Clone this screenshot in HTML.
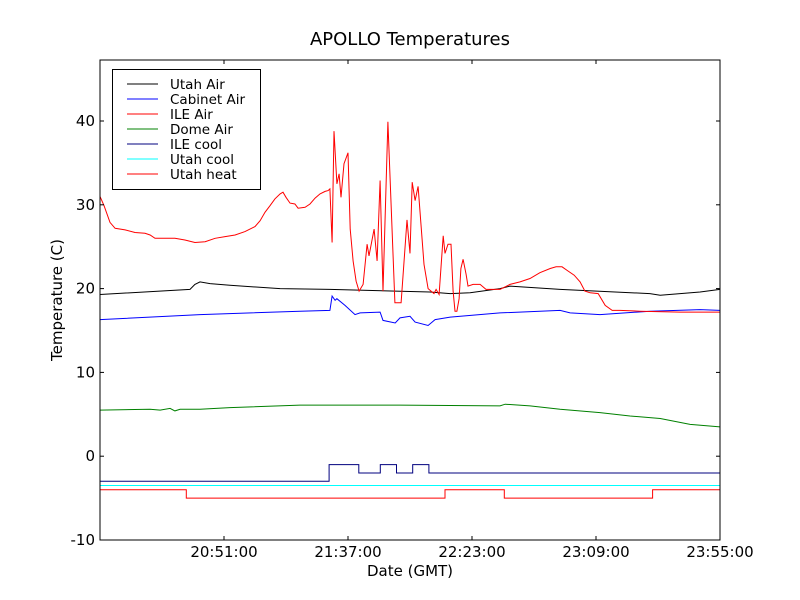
<!DOCTYPE html>
<html><head><meta charset="utf-8"><style>
body{margin:0;background:#fff;}
svg{display:block;font-family:"DejaVu Sans","Liberation Sans",sans-serif;}
</style></head><body>
<svg id="chart" width="800" height="600">
<rect width="800" height="600" fill="#fff"/>
<text x="410" y="45" font-size="18" text-anchor="middle">APOLLO Temperatures</text>
<g id="series"></g>
<rect x="100" y="60" width="620" height="480" fill="none" stroke="#000" stroke-width="1"/>
<g id="axes"></g>
<text x="410" y="576" font-size="15" text-anchor="middle">Date (GMT)</text>
<text transform="translate(62,300) rotate(-90)" font-size="15" text-anchor="middle">Temperature (C)</text>
<g>
<rect x="112.5" y="69.5" width="148" height="120" fill="#fff" stroke="#000"/>
<g id="legend"></g>
</g>
</svg>
<script>
// time in minutes after 20:05:00
const xTickLabels=["20:51:00","21:37:00","22:23:00","23:09:00","23:55:00"];
const xTickMinutes=[46,92,138,184,230];
const yTicks=[-10,0,10,20,30,40];
const utahAirT=[0,33.4,35.2,37.1,40.8,48.2,66.8,85.3,122.4,129.9,137.3,148.4,152.1,170.7,204,207.8,222.6,230];
const utahAirV=[19.3,19.9,20.5,20.8,20.6,20.4,20.0,19.9,19.6,19.4,19.5,20.0,20.3,19.9,19.4,19.2,19.6,19.9];
const cabinetT=[0,37.1,74.2,85.3,86.1,87.2,87.9,90.9,94.6,96.5,103.9,105.0,109.5,111.3,115.0,116.9,121.7,124.3,129.9,148.4,170.7,174.4,185.5,204.1,222.6,230];
const cabinetV=[16.3,16.9,17.3,17.4,19.1,18.6,18.8,18.0,16.9,17.1,17.2,16.2,15.9,16.5,16.7,16.0,15.6,16.3,16.6,17.1,17.4,17.1,16.9,17.3,17.5,17.4];
const ileAirT=[0,1.5,3.7,5.6,9.3,13.0,16.7,18.6,20.4,24.1,27.8,31.5,35.2,39.0,42.7,46.4,50.1,53.8,57.5,59.4,61.2,63.1,64.9,66.8,67.9,69.0,70.5,72.3,73.5,76.1,77.9,79.8,81.6,83.5,84.6,85.3,86.1,86.8,87.9,88.7,89.4,90.5,92.0,92.8,93.9,95.0,96.1,97.6,99.1,99.8,101.7,102.8,103.9,105.0,106.8,109.4,111.7,113.9,115.0,115.8,116.9,118.0,120.2,121.7,123.9,124.7,125.8,127.3,128.0,129.1,130.2,131.0,131.7,132.4,133.2,133.9,134.7,135.8,136.5,138.4,141.0,143.2,148.4,152.1,155.8,159.5,163.2,167.0,169.2,171.4,173.6,175.9,178.1,179.9,181.8,184.8,187.4,190.0,192.9,200.3,215.2,230];
const ileAirV=[31.0,29.9,27.9,27.2,27.0,26.7,26.6,26.4,26.0,26.0,26.0,25.8,25.5,25.6,26.0,26.2,26.4,26.8,27.4,28.1,29.1,29.9,30.7,31.3,31.5,30.9,30.2,30.1,29.6,29.7,30.1,30.8,31.3,31.6,31.7,31.9,25.5,38.8,32.5,33.7,30.9,34.9,36.2,27.1,23.3,20.9,19.7,20.5,25.3,23.9,27.1,23.3,32.9,19.7,39.9,18.3,18.3,28.2,24.2,32.7,30.5,32.2,22.9,20.0,19.4,19.9,19.3,26.3,24.2,25.3,25.3,19.7,17.3,17.3,18.8,22.4,23.5,21.7,20.3,20.5,20.5,19.9,19.9,20.5,20.8,21.2,21.9,22.4,22.6,22.6,22.1,21.6,20.8,19.7,19.5,19.4,18.0,17.4,17.4,17.3,17.2,17.2];
const domeT=[0,18.6,22.3,26.0,27.8,29.7,37.1,48.2,74.2,111.3,148.4,150.3,159.5,170.7,185.5,196.6,207.8,218.9,230];
const domeV=[5.5,5.6,5.5,5.7,5.4,5.6,5.6,5.8,6.1,6.1,6.0,6.2,6.0,5.6,5.2,4.8,4.5,3.8,3.5];
const ileCoolT=[0,85,96,104,110,116,122,230];
const ileCoolV=[-3,-1,-2,-1,-2,-1,-2,-2];
const utahCoolT=[0,230];
const utahCoolV=[-3.5,-3.5];
const utahHeatT=[0,32,128,150,205,230];
const utahHeatV=[-4,-5,-4,-5,-4,-4];

const X0=100,X1=720,Y0=540,Y1=60,TMAX=230,VMIN=-10,VMAX=47.28;
const sx=t=>X0+(t/TMAX)*(X1-X0);
const sy=v=>Y0-(v-VMIN)/(VMAX-VMIN)*(Y0-Y1);
const NS="http://www.w3.org/2000/svg";
function mk(tag,attrs,parent){const e=document.createElementNS(NS,tag);for(const k in attrs)e.setAttribute(k,attrs[k]);parent.appendChild(e);return e;}
const series=document.getElementById('series');
function line(ts,vs,color,name,step){
  let d='';
  for(let i=0;i<ts.length;i++){
    const x=sx(ts[i]).toFixed(1),y=sy(vs[i]).toFixed(1);
    if(i===0)d+='M'+x+','+y;
    else if(step){d+='L'+x+','+sy(vs[i-1]).toFixed(1)+'L'+x+','+y;}
    else d+='L'+x+','+y;
  }
  const p=mk('path',{d:d,fill:'none',stroke:color,'stroke-width':1},series);
  
  
}
line(utahCoolT,utahCoolV,'#00ffff','utah-cool-line',false);
line(utahHeatT,utahHeatV,'#ff0000','utah-heat-line',true);
line(ileCoolT,ileCoolV,'#00007f','ile-cool-line',true);
line(domeT,domeV,'#008000','dome-air-line',false);
line(cabinetT,cabinetV,'#0000ff','cabinet-air-line',false);
line(utahAirT,utahAirV,'#000000','utah-air-line',false);
line(ileAirT,ileAirV,'#ff0000','ile-air-line',false);

const axes=document.getElementById('axes');
xTickMinutes.forEach((m,i)=>{
  const x=sx(m);
  const t1=mk('line',{x1:x,x2:x,y1:540,y2:536,stroke:'#000'},axes);
  
  
  const t2=mk('line',{x1:x,x2:x,y1:60,y2:64,stroke:'#000'},axes);
  
  
  const tx=mk('text',{x:x,y:557,'font-size':15,'text-anchor':'middle'},axes);
  tx.textContent=xTickLabels[i];
  
  
});
yTicks.forEach(v=>{
  const y=sy(v);
  const t1=mk('line',{x1:100,x2:104,y1:y,y2:y,stroke:'#000'},axes);
  
  
  const t2=mk('line',{x1:716,x2:720,y1:y,y2:y,stroke:'#000'},axes);
  
  
  const tx=mk('text',{x:95,y:y+5,'font-size':15,'text-anchor':'end'},axes);
  tx.textContent=String(v);
  
  
});

const legendNames=["Utah Air","Cabinet Air","ILE Air","Dome Air","ILE cool","Utah cool","Utah heat"];
const legendColors=["#000000","#0000ff","#ff0000","#008000","#00007f","#00ffff","#ff0000"];
const lg=document.getElementById('legend');
legendNames.forEach((n,i)=>{
  const y=84+i*15;
  const g=mk('g',{},lg);
  
  
  mk('line',{x1:127,x2:158,y1:y,y2:y,stroke:legendColors[i]},g);
  const t=mk('text',{x:170,y:y+5,'font-size':13.5},g);
  t.textContent=n;
});
</script>
</body></html>
